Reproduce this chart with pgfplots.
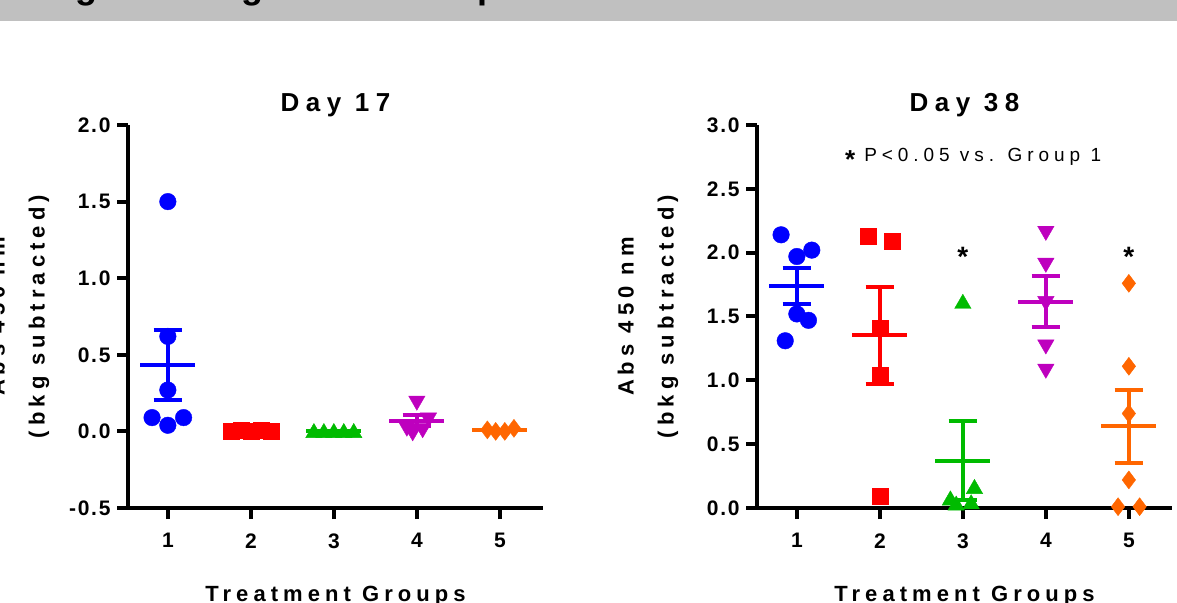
\documentclass[border=0pt]{standalone}
\usepackage{pgfplots}
\pgfplotsset{compat=1.18}
\usepackage{pgfplotstable}
\usepackage{fontspec}
\setmainfont{Liberation Sans}
\newfontfamily\spA[LetterSpace=25]{Liberation Sans}
\newfontfamily\spL[LetterSpace=23]{Liberation Sans}
\newfontfamily\spB[LetterSpace=8]{Liberation Sans}
\newfontfamily\spC[LetterSpace=26]{Liberation Sans}
\newcommand\tickfont{\spB\bfseries\fontsize{21}{24}\selectfont}
\newcommand\titlefont{\spA\bfseries\fontsize{26}{28}\selectfont}
\newcommand\labfont{\spL\bfseries\fontsize{22}{40}\selectfont}
\definecolor{pblue}{RGB}{0,0,255}
\definecolor{pred}{RGB}{255,0,0}
\definecolor{pgreen}{RGB}{0,187,0}
\definecolor{pmag}{RGB}{190,0,190}
\definecolor{porange}{RGB}{255,102,0}
\definecolor{banner}{RGB}{192,192,192}

% Day 17
\pgfplotstableread{
x y
1.00 1.50
1.00 0.62
1.00 0.27
0.81 0.09
1.19 0.09
1.00 0.04
}\aA
\pgfplotstableread{
x y
1.76 0.00
1.88 0.01
2.00 0.00
2.12 0.01
2.24 0.00
}\aB
\pgfplotstableread{
x y
2.76 -0.01
2.88 -0.01
3.00 -0.01
3.12 -0.01
3.24 -0.01
}\aC
\pgfplotstableread{
x y
4.00 0.20
4.14 0.09
3.88 0.03
4.07 0.02
3.95 0.00
}\aD
\pgfplotstableread{
x y
4.85 0.01
4.95 0.00
5.06 0.00
5.17 0.02
}\aE
% Day 38
\pgfplotstableread{
x y
0.81 2.14
1.18 2.02
1.00 1.97
1.00 1.52
1.14 1.47
0.86 1.31
}\bA
\pgfplotstableread{
x y
1.86 2.13
2.15 2.09
2.00 1.41
2.00 1.04
2.00 0.09
}\bB
\pgfplotstableread{
x y
3.00 1.60
3.14 0.15
2.85 0.06
2.92 0.02
3.10 0.03
}\bC
\pgfplotstableread{
x y
4.00 2.17
4.00 1.92
4.00 1.62
4.00 1.28
4.00 1.09
}\bD
\pgfplotstableread{
x y
5.00 1.76
5.00 1.11
5.00 0.74
5.00 0.22
4.87 0.01
5.13 0.01
}\bE

\pgfplotsset{
  panel/.style={
    scale only axis, width=415pt, height=383pt,
    xmin=0.52, xmax=5.52, xtick={1,2,3,4,5}, xticklabels={1,2,3,4,5},
    axis lines=left, axis line style={line width=4pt,-},
    tick align=outside, major tick length=11pt,
    every tick/.style={line width=4pt, black},
    tick label style={font=\tickfont},
    xticklabel style={yshift=-11pt},
    yticklabel style={xshift=-3pt},
    title style={font=\titlefont, at={(0.5,1)}, anchor=base, yshift=7pt},
    clip=false,
  },
  dots/.style={only marks, mark options={draw=none}},
  sline/.style={line width=4pt, mark=none},
}

\begin{document}
\begin{tikzpicture}[x=1pt,y=1pt]
\useasboundingbox (0,0) rectangle (1177,602);
\clip (0,0) rectangle (1177,602);
\fill[banner] (0,581) rectangle (1177,602);
\node[anchor=base, font=\bfseries\fontsize{36}{36}\selectfont, inner sep=0pt] at (86,603) {g};
\node[anchor=base, font=\bfseries\fontsize{36}{36}\selectfont, inner sep=0pt] at (252,603) {g};
\node[anchor=base, font=\bfseries\fontsize{36}{36}\selectfont, inner sep=0pt] at (488,603) {p};

% ---------- Day 17 ----------
\begin{axis}[panel, at={(128pt,94pt)}, anchor=south west,
  ymin=-0.5, ymax=2.0, ytick={-0.5,0,0.5,1,1.5,2},
  yticklabels={-0.5,0.0,0.5,1.0,1.5,2.0}, title={Day 17}]
\addplot[dots, pblue, mark=*, mark size=8.3pt] table {\aA};
\addplot[sline, pblue] coordinates {(0.67,0.435) (1.33,0.435)};
\addplot[sline, pblue] coordinates {(1,0.205) (1,0.665)};
\addplot[sline, pblue] coordinates {(0.83,0.665) (1.17,0.665)};
\addplot[sline, pblue] coordinates {(0.83,0.205) (1.17,0.205)};

\addplot[sline, pred] coordinates {(1.67,0.004) (2.33,0.004)};
\addplot[dots, pred, mark=square*, mark size=8pt] table {\aB};

\addplot[sline, pgreen] coordinates {(2.67,0.0) (3.33,0.0)};
\addplot[dots, pgreen, mark=triangle*, mark size=9.5pt] table {\aC};

\addplot[dots, pmag, mark=triangle*, mark size=9.5pt, mark options={rotate=180}] table {\aD};
\addplot[sline, pmag] coordinates {(3.67,0.068) (4.33,0.068)};
\addplot[sline, pmag] coordinates {(4,0.032) (4,0.104)};
\addplot[sline, pmag] coordinates {(3.83,0.104) (4.17,0.104)};
\addplot[sline, pmag] coordinates {(3.83,0.032) (4.17,0.032)};

\addplot[dots, porange, mark=diamond*, mark size=9pt] table {\aE};
\addplot[sline, porange] coordinates {(4.67,0.0075) (5.33,0.0075)};

\node[font=\labfont, align=center, rotate=90, anchor=center] at ([xshift=-109pt]rel axis cs:0,0.5) {Abs 450 nm\\(bkg subtracted)};
\node[font=\labfont, anchor=base] at ([yshift=-93pt]rel axis cs:0.5,0) {Treatment Groups};
\end{axis}

% ---------- Day 38 ----------
\begin{axis}[panel, at={(757pt,94pt)}, anchor=south west,
  ymin=0, ymax=3.0, ytick={0,0.5,1,1.5,2,2.5,3},
  yticklabels={0.0,0.5,1.0,1.5,2.0,2.5,3.0}, title={Day 38}]
\addplot[dots, pblue, mark=*, mark size=8.3pt] table {\bA};
\addplot[sline, pblue] coordinates {(0.67,1.738) (1.33,1.738)};
\addplot[sline, pblue] coordinates {(1,1.597) (1,1.879)};
\addplot[sline, pblue] coordinates {(0.83,1.879) (1.17,1.879)};
\addplot[sline, pblue] coordinates {(0.83,1.597) (1.17,1.597)};

\addplot[dots, pred, mark=square*, mark size=8pt] table {\bB};
\addplot[sline, pred] coordinates {(1.67,1.352) (2.33,1.352)};
\addplot[sline, pred] coordinates {(2,0.975) (2,1.729)};
\addplot[sline, pred] coordinates {(1.83,1.729) (2.17,1.729)};
\addplot[sline, pred] coordinates {(1.83,0.975) (2.17,0.975)};

\addplot[dots, pgreen, mark=triangle*, mark size=9.5pt] table {\bC};
\addplot[sline, pgreen] coordinates {(2.67,0.372) (3.33,0.372)};
\addplot[sline, pgreen] coordinates {(3,0.064) (3,0.680)};
\addplot[sline, pgreen] coordinates {(2.83,0.680) (3.17,0.680)};
\addplot[sline, pgreen] coordinates {(2.83,0.064) (3.17,0.064)};

\addplot[dots, pmag, mark=triangle*, mark size=9.5pt, mark options={rotate=180}] table {\bD};
\addplot[sline, pmag] coordinates {(3.67,1.616) (4.33,1.616)};
\addplot[sline, pmag] coordinates {(4,1.417) (4,1.815)};
\addplot[sline, pmag] coordinates {(3.83,1.815) (4.17,1.815)};
\addplot[sline, pmag] coordinates {(3.83,1.417) (4.17,1.417)};

\addplot[dots, porange, mark=diamond*, mark size=9pt] table {\bE};
\addplot[sline, porange] coordinates {(4.67,0.642) (5.33,0.642)};
\addplot[sline, porange] coordinates {(5,0.356) (5,0.928)};
\addplot[sline, porange] coordinates {(4.83,0.928) (5.17,0.928)};
\addplot[sline, porange] coordinates {(4.83,0.356) (5.17,0.356)};

\node[font=\bfseries\fontsize{28}{28}\selectfont] at (axis cs:3,1.97) {*};
\node[font=\bfseries\fontsize{28}{28}\selectfont] at (axis cs:5,1.97) {*};
\node[anchor=west, font=\spC\fontsize{19}{22}\selectfont, inner sep=0pt] at (axis cs:1.58,2.74) {\raisebox{-7pt}{\fontsize{26}{26}\bfseries\selectfont *}\hspace{9pt}P<0.05 vs. Group 1};

\node[font=\labfont, align=center, rotate=90, anchor=center] at ([xshift=-109pt]rel axis cs:0,0.5) {Abs 450 nm\\(bkg subtracted)};
\node[font=\labfont, anchor=base] at ([yshift=-93pt]rel axis cs:0.5,0) {Treatment Groups};
\end{axis}
\end{tikzpicture}
\end{document}
